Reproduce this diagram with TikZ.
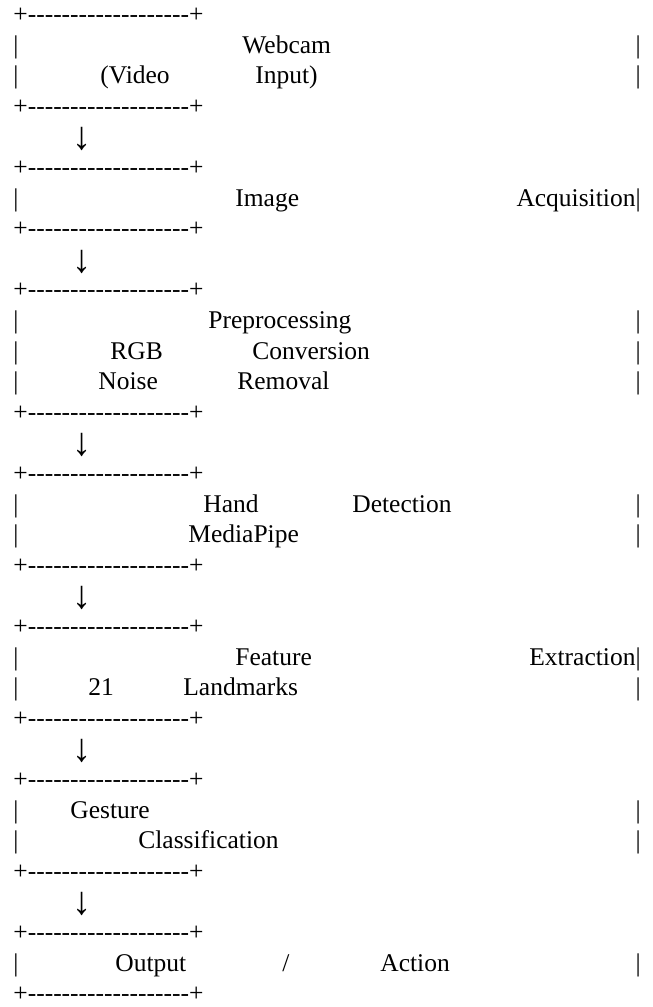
\documentclass[tikz,border=0pt]{standalone}
\usepackage{fontspec}
\setmainfont{Liberation Serif}[Ligatures=TeXOff]

\begin{document}
\begin{tikzpicture}[x=0.5pt,y=-0.5pt,
	txt/.style={anchor=base west,inner sep=0pt,font=\fontsize{12.75}{15}\selectfont},
	rtxt/.style={txt,anchor=base east},
	arr/.style={txt,anchor=base}]
\useasboundingbox (0,0) rectangle (653,1007);
\pgfmathsetmacro{\lh}{30.6}

% frame rules and side bars
\foreach \r in {1,4,6,8,10,14,16,19,21,24,26,29,31,33}
	\node[txt] (rule\r) at (13,{22.5+\lh*(\r-1)}) {+-------------------+};
\foreach \r in {2,3,7,11,12,13,17,18,22,23,27,28,32}
	\node[txt] (lbar\r) at (13,{22.5+\lh*(\r-1)}) {|};
\foreach \r in {2,3,11,12,13,17,18,23,27,28,32}
	\node[rtxt] (rbar\r) at (641,{22.5+\lh*(\r-1)}) {|};
\foreach \r in {5,9,15,20,25,30}
	\node[arr] (down\r) at (82.5,{27.5+\lh*(\r-1)}) {\scalebox{1.5}[1.55]{↓}};

% box texts
\node[txt] (webcam) at (242,{22.5+\lh*1}) {Webcam};
\node[txt] (video) at (100,{22.5+\lh*2}) {(Video};
\node[txt] (input) at (255,{22.5+\lh*2}) {Input)};

\node[txt] (image) at (235,{22.5+\lh*6}) {Image};
\node[rtxt] (acq) at (641,{22.5+\lh*6}) {Acquisition|};

\node[txt] (prep) at (208,{22.5+\lh*10}) {Preprocessing};
\node[txt] (rgb) at (110,{22.5+\lh*11}) {RGB};
\node[txt] (conv) at (252,{22.5+\lh*11}) {Conversion};
\node[txt] (noise) at (98,{22.5+\lh*12}) {Noise};
\node[txt] (removal) at (237,{22.5+\lh*12}) {Removal};

\node[txt] (hand) at (203,{22.5+\lh*16}) {Hand};
\node[txt] (detect) at (352,{22.5+\lh*16}) {Detection};
\node[txt] (mediapipe) at (188,{22.5+\lh*17}) {MediaPipe};

\node[txt] (feature) at (235,{22.5+\lh*21}) {Feature};
\node[rtxt] (extract) at (641,{22.5+\lh*21}) {Extraction|};
\node[txt] (num) at (88,{22.5+\lh*22}) {21};
\node[txt] (landmarks) at (183,{22.5+\lh*22}) {Landmarks};

\node[txt] (gesture) at (70,{22.5+\lh*26}) {Gesture};
\node[txt] (classif) at (138,{22.5+\lh*27}) {Classification};

\node[txt] (output) at (115,{22.5+\lh*31}) {Output};
\node[txt] (slash) at (282,{22.5+\lh*31}) {/};
\node[txt] (action) at (380,{22.5+\lh*31}) {Action};
\end{tikzpicture}
\end{document}
